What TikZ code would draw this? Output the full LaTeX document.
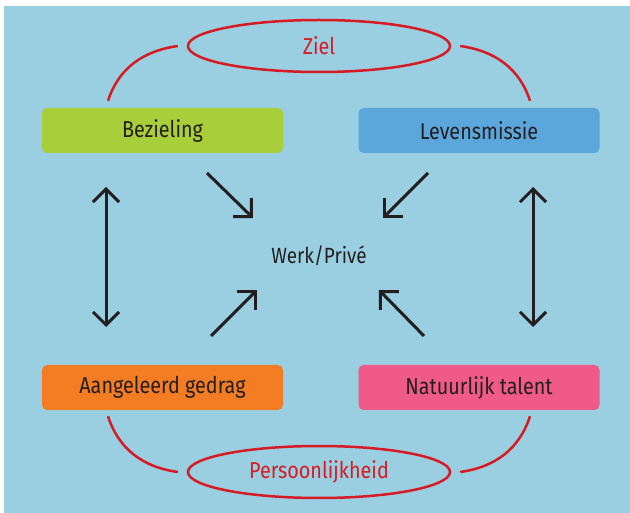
\documentclass[tikz,border=0pt]{standalone}
\usepackage{fontspec}
\setmainfont{Fira Sans}[FakeStretch=0.86]
\usetikzlibrary{shapes.geometric, arrows.meta}
\definecolor{bgblue}{HTML}{99CFE1}
\definecolor{limegreen}{HTML}{A8CE3A}
\definecolor{skyblue}{HTML}{5BA7DC}
\definecolor{warmorange}{HTML}{F47C22}
\definecolor{hotpink}{HTML}{F05A8A}
\definecolor{ringred}{HTML}{D71A23}
\definecolor{inkdark}{HTML}{231F20}
\tikzstyle{box} = [rectangle, rounded corners=5pt, minimum width=241pt, minimum height=45pt, text centered, text=inkdark, font=\fontsize{23}{27}\selectfont]
\tikzstyle{ring} = [ellipse, draw=ringred, line width=2.5pt, minimum width=262pt, minimum height=52pt, text=ringred, font=\fontsize{23}{27}\selectfont]
\tikzstyle{link} = [draw=ringred, line width=2.5pt]
\tikzstyle{arrow} = [inkdark, line width=3pt, -{Straight Barb[length=13pt,width=26pt]}]
\tikzstyle{twoway} = [inkdark, line width=3pt, {Straight Barb[length=13pt,width=26pt]}-{Straight Barb[length=13pt,width=26pt]}]

\begin{document}
\begin{tikzpicture}[x=1pt, y=-1pt]

\useasboundingbox (0,0) rectangle (630,513);
\fill [bgblue] (4,6) rectangle (630,513);

%% NODES

\node (bez) [box, fill=limegreen] at (162.5,130.5) {Bezieling};
\node (lev) [box, fill=skyblue] at (479,130.5) {Levensmissie};
\node (aan) [box, fill=warmorange] at (162.5,387.5) {Aangeleerd gedrag};
\node (nat) [box, fill=hotpink] at (479,387.5) {Natuurlijk talent};
\node (ziel) [ring] at (319,46) {Ziel};
\node (pers) [ring] at (319,472) {Persoonlijkheid};
\node (werk) [text=inkdark, font=\fontsize{22}{26}\selectfont] at (319,256) {Werk/Privé};

\coordinate (tl1) at (207,173);
\coordinate (tl2) at (253,218);
\coordinate (tr1) at (428,173);
\coordinate (tr2) at (383,218);
\coordinate (bl1) at (211,336);
\coordinate (bl2) at (257,290);
\coordinate (br1) at (424,336);
\coordinate (br2) at (379,290);
\coordinate (lefttop) at (106,187);
\coordinate (leftbot) at (106,327);
\coordinate (righttop) at (533,187);
\coordinate (rightbot) at (533,327);

%% RED LINKS

\draw [link] ([xshift=-54.5pt,yshift=7pt]bez.north) to[out=72, in=188] ([xshift=-9pt]ziel.west);
\draw [link] ([xshift=9pt]ziel.east) to[out=-8, in=108] ([xshift=51pt,yshift=7pt]lev.north);
\draw [link] ([xshift=-54.5pt,yshift=-6pt]aan.south) to[out=-72, in=172] ([xshift=-9pt]pers.west);
\draw [link] ([xshift=9pt]pers.east) to[out=8, in=-108] ([xshift=51pt,yshift=-6pt]nat.south);

%% ARROWS

\draw [arrow] (tl1) -- (tl2);
\draw [arrow] (tr1) -- (tr2);
\draw [arrow] (bl1) -- (bl2);
\draw [arrow] (br1) -- (br2);
\draw [twoway] (lefttop) -- (leftbot);
\draw [twoway] (righttop) -- (rightbot);

\end{tikzpicture}
\end{document}
